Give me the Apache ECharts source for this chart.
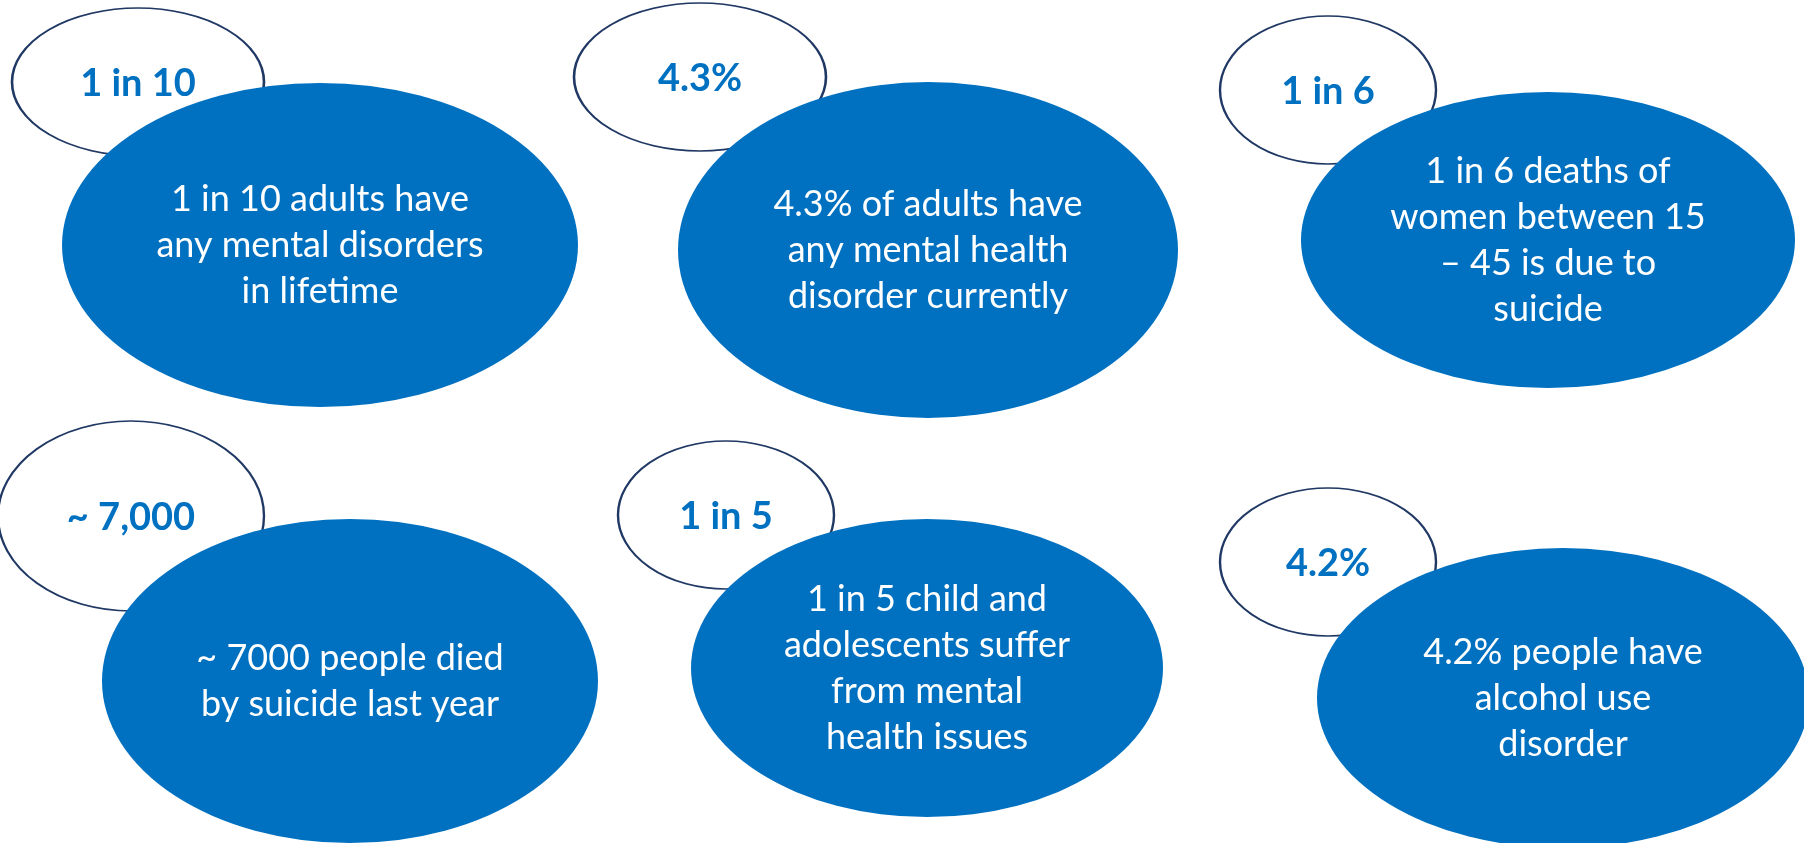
<!DOCTYPE html>
<html>
<head>
<meta charset="utf-8">
<style>
  html, body { margin: 0; padding: 0; background: #ffffff; }
  #chart { width: 1804px; height: 843px; }
</style>
<script src="https://cdn.jsdelivr.net/npm/echarts@6/dist/echarts.min.js"></script>
</head>
<body>
<div id="chart"></div>
<script>
// ---- content ----
const statLabels = ['1 in 10', '4.3%', '1 in 6', '~ 7,000', '1 in 5', '4.2%'];
const statDescriptions = [
  '1 in 10 adults have\nany mental disorders\nin lifetime',
  '4.3% of adults have\nany mental health\ndisorder currently',
  '1 in 6 deaths of\nwomen between 15\n\u2013 45 is due to\nsuicide',
  '~ 7000 people died\nby suicide last year',
  '1 in 5 child and\nadolescents suffer\nfrom mental\nhealth issues',
  '4.2% people have\nalcohol use\ndisorder'
];

// ---- layout (pixel space of the 1804 x 843 canvas) ----
const badgeX = [138, 700, 1328, 131, 726, 1328];
const badgeY = [82, 77, 90, 516, 515, 562];
const badgeW = [252, 252, 216, 266, 216, 216];
const badgeH = [148, 148, 148, 190, 148, 148];

const bubbleX = [320, 928, 1548, 350, 927, 1563];
const bubbleY = [245, 250, 240, 681, 668, 698];
const bubbleW = [516, 500, 494, 496, 472, 492];
const bubbleH = [324, 336, 296, 324, 298, 300];

const badgeData = statLabels.map((name, i) => ({
  name: name,
  value: [badgeX[i], badgeY[i]],
  symbolSize: [badgeW[i], badgeH[i]]
}));
const bubbleData = statDescriptions.map((name, i) => ({
  name: name,
  value: [bubbleX[i], bubbleY[i]],
  symbolSize: [bubbleW[i], bubbleH[i]]
}));

const chart = echarts.init(document.getElementById('chart'), null, { renderer: 'canvas' });
chart.setOption({
  animation: false,
  backgroundColor: '#ffffff',
  grid: { left: 0, right: 0, top: 0, bottom: 0 },
  xAxis: { type: 'value', min: 0, max: 1804, show: false },
  yAxis: { type: 'value', min: 0, max: 843, inverse: true, show: false },
  tooltip: { show: false },
  series: [
    {
      type: 'scatter',
      z: 2,
      symbol: 'circle',
      data: badgeData,
      itemStyle: { color: '#ffffff', borderColor: '#203864', borderWidth: 2, opacity: 1 },
      emphasis: { disabled: true },
      label: {
        show: true,
        position: 'inside',
        offset: [0, 2],
        formatter: '{b}',
        color: '#0070C0',
        fontFamily: 'Lato',
        fontWeight: 'bold',
        fontSize: 38
      }
    },
    {
      type: 'scatter',
      z: 3,
      symbol: 'circle',
      data: bubbleData,
      itemStyle: { color: '#0070C0', opacity: 1 },
      emphasis: { disabled: true },
      label: {
        show: true,
        position: 'inside',
        formatter: '{b}',
        color: '#ffffff',
        fontFamily: 'Lato',
        fontSize: 36,
        lineHeight: 46,
        align: 'center'
      }
    }
  ]
});
</script>
</body>
</html>
